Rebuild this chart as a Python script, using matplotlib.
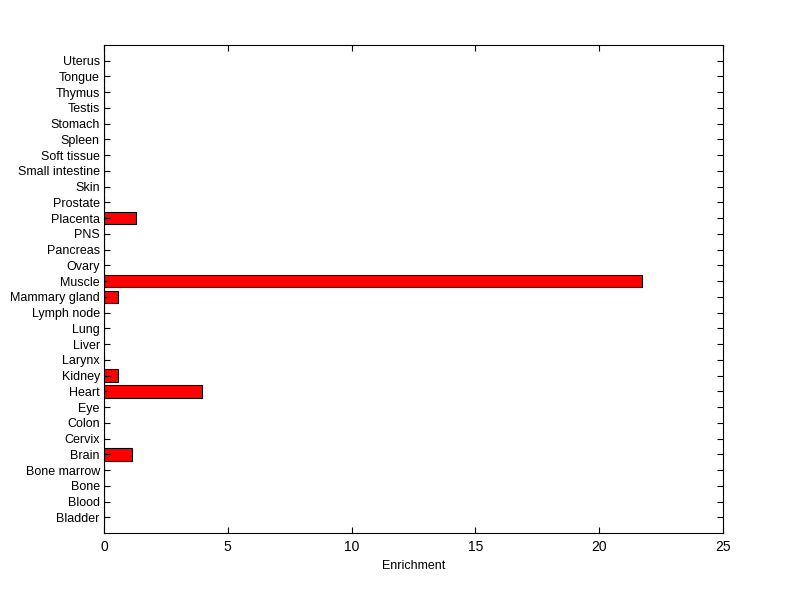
import numpy as np
import matplotlib
matplotlib.use("Agg")
import matplotlib.pyplot as plt

# Datos: tejidos (de abajo hacia arriba) y enriquecimiento
tejidos = [
    "Bladder", "Blood", "Bone", "Bone marrow", "Brain", "Cervix", "Colon",
    "Eye", "Heart", "Kidney", "Larynx", "Liver", "Lung", "Lymph node",
    "Mammary gland", "Muscle", "Ovary", "Pancreas", "PNS", "Placenta",
    "Prostate", "Skin", "Small intestine", "Soft tissue", "Spleen",
    "Stomach", "Testis", "Thymus", "Tongue", "Uterus",
]
enriquecimiento = [
    0, 0, 0, 0, 1.14, 0, 0,
    0, 3.95, 0.55, 0, 0, 0, 0,
    0.55, 21.74, 0, 0, 0, 1.31,
    0, 0, 0, 0, 0,
    0, 0, 0, 0, 0,
]
x_ticks = [0, 5, 10, 15, 20, 25]

plt.rcParams["font.family"] = ["Liberation Sans", "DejaVu Sans"]

fig = plt.figure(figsize=(8, 5.99), dpi=100)
ax = fig.add_axes([0.13, 0.11, 0.77375, 0.815])

pos = np.arange(1, len(tejidos) + 1)
ax.barh(pos, enriquecimiento, height=0.8, color="red",
        edgecolor="black", linewidth=0.8)

ax.set_xlim(0, 25)
ax.set_ylim(0, len(tejidos) + 1)
ax.set_xticks(x_ticks)
ax.set_xticklabels([str(t) for t in x_ticks])
ax.set_yticks(pos)
ax.set_yticklabels(tejidos)
ax.set_xlabel("Enrichment", fontsize=9, labelpad=4)

ax.tick_params(direction="in", length=4, width=0.8, labelsize=9,
               top=True, right=True, pad=3, colors="black")
ax.tick_params(axis="x", labelsize=10, pad=5)
for s in ax.spines.values():
    s.set_linewidth(0.8)

fig.savefig("out.png", dpi=100, facecolor="white")
